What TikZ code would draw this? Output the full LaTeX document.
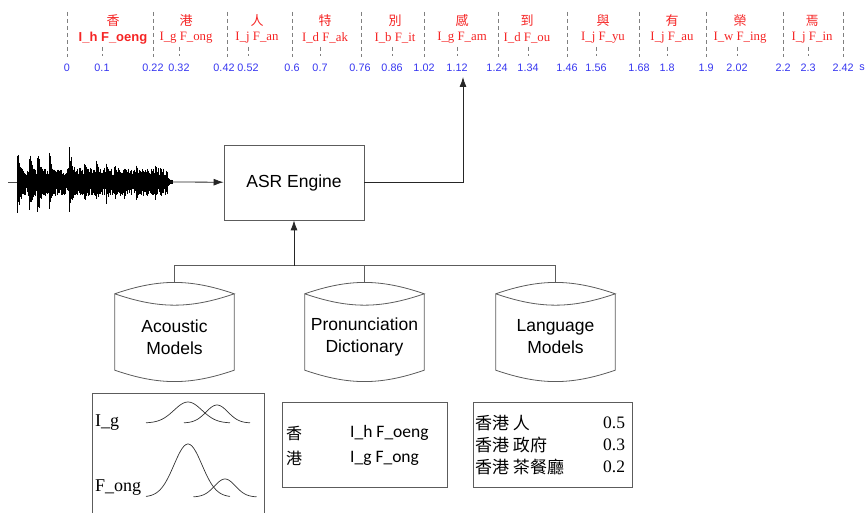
\documentclass[tikz,border=0pt]{standalone}
\usepackage{fontspec}
\setmainfont{Liberation Serif}
\setsansfont{Liberation Sans}
\newfontfamily\cjk{Noto Sans CJK TC}
\newfontfamily\calib{Carlito}
\usepackage{xcolor}
\usepackage{tikz}
\definecolor{red}{HTML}{F52424}
\definecolor{blue}{HTML}{3535F0}
\definecolor{rahmen}{HTML}{5C5C5C}
\usetikzlibrary{arrows}
\usetikzlibrary{arrows.meta}
\usetikzlibrary{calc}

\begin{document}
\begin{tikzpicture}[x=1pt, y=1pt,
		rahmen/.style={draw=rahmen, line width=0.8pt},
		conn/.style={draw=black!85, line width=0.8pt},
		pfeil/.style={-{Latex[length=10pt,width=7pt]}},
		drum/.style={minimum width=119pt, minimum height=76pt, inner sep=0pt, align=center, font=\sffamily\fontsize{17.5}{22}\selectfont},
		zahl/.style={blue, inner sep=0pt, font=\sffamily\fontsize{10.8}{12}\selectfont},
		laut/.style={red, inner sep=0pt, font=\fontsize{12.8}{14}\selectfont},
		zeichen/.style={red, inner sep=0pt, font=\cjk\fontsize{13}{14}\selectfont},
		strich/.style={gray, line width=0.6pt, dash pattern=on 4pt off 3pt}]
		\useasboundingbox (0,0) rectangle (867,512);

		%Zeitachse: Silbengrenzen
		\foreach \x in {67, 153, 227, 292, 361, 424, 498, 567, 639, 706, 783, 843}{
			\draw[strich] (\x,500) -- (\x,455);
		}
		\foreach \x/\z [count=\i] in {67/0, 153/0.22, 224/0.42, 292/0.6, 360/0.76, 424/1.02, 497/1.24, 567/1.46, 639/1.68, 706/1.9, 783/2.2, 843/2.42}{
			\node[zahl] (g\i) at (\x,444) {\z};
		}

		%Zeitachse: Grenze Initial/Final
		\foreach \x/\z [count=\i] in {102/0.1, 179/0.32, 248/0.52, 320/0.7, 392/0.86, 457/1.12, 528/1.34, 596/1.56, 667/1.8, 737/2.02, 808/2.3}{
			\draw[strich] (\x,465) -- (\x,456);
			\node[zahl] (m\i) at (\x,444) {\z};
		}
		\node[zahl] (sek) at (862,444) {s};

		%Zeichen und Laute
		\node[zeichen] (c1) at (113,491) {香};
		\node[red, inner sep=0pt, font=\sffamily\bfseries\fontsize{13}{14}\selectfont] (p1) at (113,474) {I\_h F\_oeng};
		\foreach \x/\c/\p [count=\i from 2] in {186/港/I\_g F\_ong, 257/人/I\_j F\_an, 325/特/I\_d F\_ak, 395/別/I\_b F\_it, 462/感/I\_g F\_am, 527/到/I\_d F\_ou, 603/與/I\_j F\_yu, 672/有/I\_j F\_au, 740/榮/I\_w F\_ing, 812/焉/I\_j F\_in}{
			\node[zeichen] (c\i) at (\x,491) {\c};
			\node[laut] (p\i) at (\x,474) {\p};
		}

		%Sprachsignal
		\draw[black!70, line width=0.6pt] (8,330) -- (170,330);
		\pgfmathsetseed{17}
		\foreach \k in {0,...,250}{
			\pgfmathsetmacro{\xx}{17+0.6*\k}
			\pgfmathsetmacro{\hi}{5+9*rnd}
			\pgfmathsetmacro{\lo}{5+9*rnd}
			\draw[line width=0.6pt] (\xx,{330+\hi}) -- (\xx,{330-\lo});
		}
		\foreach \c/\a in {17/35, 29/32, 37/36, 49/34, 57/16, 69/35, 84/24, 96/24, 106/22, 114/20, 124/18, 136/19, 146/17, 155/18, 161/14}{
			\foreach \k in {0,...,22}{
				\pgfmathsetmacro{\xx}{\c+0.5*\k}
				\pgfmathsetmacro{\hi}{\a*exp(-\k/12)*(0.55+0.45*rnd)}
				\pgfmathsetmacro{\lo}{\a*exp(-\k/12)*(0.55+0.45*rnd)}
				\draw[line width=0.7pt] (\xx,{330+\hi}) -- (\xx,{330-\lo});
			}
		}
		\coordinate (wave) at (170,330);

		%Erkenner
		\node[rahmen, minimum width=140pt, minimum height=75pt, font=\sffamily\fontsize{17.5}{20}\selectfont] (asr) at (294,329.5) {ASR Engine};
		\draw[conn, pfeil] (wave) -- (asr);

		%Ausgabe nach oben
		\coordinate (aus) at (463,435);
		\draw[conn, pfeil] (asr.east) -| (aus);

		%Modelle
		\node[drum] (am) at (174.5,175) {Acoustic\\Models};
		\node[drum] (pd) at (364.5,175) {Pronunciation\\Dictionary};
		\node[drum] (lm) at (555.5,175) {Language\\Models};
		\foreach \n in {am,pd,lm}{
			\draw[rahmen] ([yshift=5pt]\n.north west) to[bend left=19] ([yshift=5pt]\n.north east) to[bend left=19] ([yshift=5pt]\n.north west)
				-- ([yshift=5pt]\n.south west) to[bend right=19] ([yshift=5pt]\n.south east) -- ([yshift=5pt]\n.north east);
		}

		%Verbindung Modelle - Erkenner
		\coordinate (bus) at (asr.south |- 0,246);
		\draw[rahmen] ([yshift=16pt]am.north) -- ++(0,17) -| ([yshift=16pt]lm.north);
		\draw[rahmen] ([yshift=16pt]pd.north) -- ++(0,17);
		\draw[conn, pfeil] (bus) -- (asr.south);

		%Akustisches Modell: Verteilungen
		\draw[rahmen] (92,-2) |- (264,119) -- (264,-2);
		\node[anchor=west, inner sep=0pt, font=\fontsize{18}{20}\selectfont] (ig) at (95,89) {I\_g};
		\node[anchor=west, inner sep=0pt, font=\fontsize{18}{20}\selectfont] (fong) at (95,24) {F\_ong};
		\begin{scope}[black!80, line width=0.7pt, domain=-3:3, samples=50]
			\draw plot ({188+14*\x}, {89+21*exp(-\x*\x/2)});
			\draw plot ({217+11*\x}, {89+18*exp(-\x*\x/2)});
			\draw plot ({188+14*\x}, {15+53*exp(-\x*\x/2)});
			\draw plot ({225+10.5*\x}, {15+18*exp(-\x*\x/2)});
		\end{scope}

		%Aussprachewoerterbuch
		\draw[rahmen] (282,25) rectangle (447,110);
		\node[anchor=west, inner sep=0pt, font=\cjk\fontsize{16}{18}\selectfont] (x1) at (286,79) {香};
		\node[anchor=west, inner sep=0pt, font=\cjk\fontsize{16}{18}\selectfont] (x2) at (286,54) {港};
		\node[anchor=west, inner sep=0pt, font=\calib\fontsize{17.5}{20}\selectfont] (y1) at (350,79) {I\_h F\_oeng};
		\node[anchor=west, inner sep=0pt, font=\calib\fontsize{17.5}{20}\selectfont] (y2) at (350,54) {I\_g F\_ong};

		%Sprachmodell
		\draw[rahmen] (473,25) rectangle (632,110);
		\foreach \y/\w/\v [count=\i] in {89/香港 人/0.5, 67/香港 政府/0.3, 45/香港 茶餐廳/0.2}{
			\node[anchor=west, inner sep=0pt, font=\cjk\fontsize{17}{18}\selectfont] (n\i) at (475,\y) {\w};
			\node[anchor=west, inner sep=0pt, font=\fontsize{17.5}{18}\selectfont] (w\i) at (603,\y) {\v};
		}
	\end{tikzpicture}
\end{document}
